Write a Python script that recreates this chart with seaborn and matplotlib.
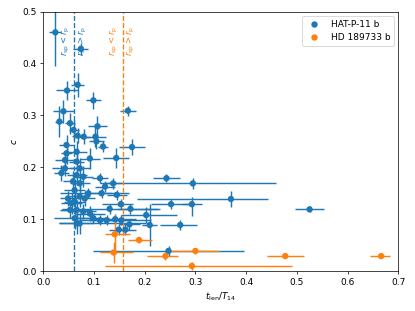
import numpy as np
import pandas as pd
import seaborn as sns
import matplotlib
matplotlib.use("Agg")
import matplotlib.pyplot as plt

# HAT-P-11 b: t_len/T14, c, and errors (lower/upper)
hat_x = [0.024, 0.074, 0.068, 0.047, 0.099, 0.040, 0.167, 0.032, 0.053, 0.107,
         0.060, 0.068, 0.080, 0.103, 0.175, 0.105, 0.046, 0.118, 0.066, 0.046,
         0.092, 0.144, 0.043, 0.066, 0.043, 0.072, 0.036, 0.066, 0.079, 0.112,
         0.059, 0.072, 0.122, 0.138, 0.243, 0.295, 0.062, 0.115, 0.145, 0.089,
         0.049, 0.072, 0.056, 0.062, 0.082, 0.370, 0.252, 0.293, 0.153, 0.066,
         0.053, 0.079, 0.092, 0.131, 0.172, 0.203, 0.062, 0.099, 0.112, 0.125,
         0.142, 0.066, 0.072, 0.210, 0.270, 0.149, 0.162, 0.170, 0.154, 0.247,
         0.525]
hat_y = [0.460, 0.428, 0.359, 0.348, 0.329, 0.308, 0.309, 0.288, 0.285, 0.279,
         0.272, 0.261, 0.259, 0.259, 0.239, 0.250, 0.243, 0.240, 0.230, 0.227,
         0.217, 0.218, 0.214, 0.211, 0.198, 0.198, 0.189, 0.185, 0.182, 0.179,
         0.173, 0.169, 0.163, 0.169, 0.179, 0.169, 0.156, 0.150, 0.147, 0.150,
         0.140, 0.144, 0.131, 0.134, 0.140, 0.139, 0.129, 0.129, 0.129, 0.118,
         0.118, 0.115, 0.111, 0.120, 0.120, 0.108, 0.102, 0.102, 0.098, 0.098,
         0.100, 0.092, 0.092, 0.089, 0.089, 0.080, 0.080, 0.090, 0.098, 0.039,
         0.119]
hat_xlo = [0.012, 0.015, 0.013, 0.021, 0.015, 0.020, 0.015, 0.008, 0.010, 0.018,
           0.010, 0.012, 0.012, 0.020, 0.026, 0.015, 0.015, 0.010, 0.020, 0.010,
           0.020, 0.026, 0.020, 0.015, 0.025, 0.020, 0.015, 0.020, 0.020, 0.015,
           0.020, 0.020, 0.020, 0.015, 0.027, 0.183, 0.020, 0.020, 0.020, 0.055,
           0.015, 0.020, 0.020, 0.020, 0.020, 0.185, 0.040, 0.020, 0.037, 0.030,
           0.020, 0.025, 0.030, 0.094, 0.027, 0.050, 0.040, 0.030, 0.040, 0.030,
           0.040, 0.035, 0.040, 0.015, 0.040, 0.020, 0.020, 0.020, 0.020, 0.148,
           0.028]
hat_xhi = [0.012, 0.015, 0.013, 0.021, 0.015, 0.020, 0.015, 0.008, 0.010, 0.018,
           0.010, 0.012, 0.012, 0.020, 0.026, 0.015, 0.015, 0.010, 0.020, 0.010,
           0.020, 0.026, 0.020, 0.015, 0.025, 0.020, 0.015, 0.020, 0.020, 0.015,
           0.020, 0.020, 0.020, 0.015, 0.027, 0.164, 0.020, 0.020, 0.020, 0.080,
           0.015, 0.020, 0.020, 0.020, 0.020, 0.074, 0.040, 0.020, 0.025, 0.030,
           0.020, 0.025, 0.030, 0.100, 0.055, 0.060, 0.040, 0.030, 0.100, 0.030,
           0.040, 0.035, 0.130, 0.015, 0.033, 0.020, 0.020, 0.020, 0.020, 0.148,
           0.028]
hat_ylo = [0.065, 0.012, 0.023, 0.019, 0.016, 0.022, 0.010, 0.030, 0.020, 0.020,
           0.020, 0.015, 0.015, 0.020, 0.016, 0.015, 0.020, 0.010, 0.020, 0.020,
           0.020, 0.019, 0.015, 0.020, 0.015, 0.020, 0.015, 0.020, 0.020, 0.010,
           0.020, 0.015, 0.010, 0.010, 0.008, 0.010, 0.015, 0.010, 0.010, 0.010,
           0.015, 0.020, 0.020, 0.020, 0.015, 0.015, 0.010, 0.022, 0.010, 0.020,
           0.015, 0.015, 0.015, 0.010, 0.010, 0.015, 0.020, 0.010, 0.010, 0.010,
           0.010, 0.020, 0.020, 0.040, 0.010, 0.010, 0.010, 0.010, 0.010, 0.010,
           0.006]
hat_yhi = [0.065, 0.012, 0.023, 0.019, 0.016, 0.022, 0.010, 0.030, 0.020, 0.020,
           0.020, 0.015, 0.015, 0.020, 0.016, 0.015, 0.020, 0.010, 0.020, 0.020,
           0.020, 0.019, 0.015, 0.020, 0.015, 0.020, 0.015, 0.020, 0.020, 0.010,
           0.020, 0.015, 0.010, 0.010, 0.008, 0.010, 0.015, 0.010, 0.010, 0.010,
           0.015, 0.020, 0.020, 0.020, 0.015, 0.015, 0.010, 0.014, 0.010, 0.020,
           0.015, 0.015, 0.015, 0.010, 0.010, 0.015, 0.020, 0.010, 0.010, 0.010,
           0.010, 0.020, 0.020, 0.040, 0.010, 0.010, 0.010, 0.010, 0.010, 0.010,
           0.006]

# HD 189733 b
hd_x = [0.141, 0.139, 0.189, 0.241, 0.300, 0.293, 0.477, 0.666]
hd_y = [0.071, 0.036, 0.060, 0.029, 0.039, 0.010, 0.029, 0.029]
hd_xlo = [0.020, 0.027, 0.021, 0.037, 0.053, 0.171, 0.036, 0.022]
hd_xhi = [0.030, 0.039, 0.025, 0.024, 0.046, 0.197, 0.036, 0.017]
hd_ylo = [0.037, 0.020, 0.005, 0.008, 0.005, 0.008, 0.004, 0.004]
hd_yhi = [0.037, 0.020, 0.005, 0.008, 0.005, 0.008, 0.004, 0.004]

# spot-size limits
limit_hat = 0.061
limit_hd = 0.157

df = pd.DataFrame({
    "x": hat_x + hd_x,
    "y": hat_y + hd_y,
    "planet": ["HAT-P-11 b"] * len(hat_x) + ["HD 189733 b"] * len(hd_x),
})

fig, ax = plt.subplots(figsize=(6.4, 4.8), dpi=415 / 6.4)
fig.subplots_adjust(left=0.104, right=0.96, bottom=0.128, top=0.962)

ax.errorbar(hat_x, hat_y, xerr=[hat_xlo, hat_xhi], yerr=[hat_ylo, hat_yhi],
            fmt="none", ecolor="C0", elinewidth=1.6, zorder=2)
ax.errorbar(hd_x, hd_y, xerr=[hd_xlo, hd_xhi], yerr=[hd_ylo, hd_yhi],
            fmt="none", ecolor="C1", elinewidth=1.6, zorder=2)
sns.scatterplot(data=df, x="x", y="y", hue="planet", palette=["C0", "C1"],
                s=50, linewidth=0, ax=ax, zorder=3)

for lim, col in [(limit_hat, "C0"), (limit_hd, "C1")]:
    ax.axvline(lim, ls="--", color=col, lw=1.5)
    ax.text(lim - 0.005, 0.473, r"$r_\mathrm{sp} < r_\mathrm{p}$", rotation=90,
            color=col, ha="right", va="top", fontsize=9.5)
    ax.text(lim + 0.005, 0.473, r"$r_\mathrm{sp} > r_\mathrm{p}$", rotation=90,
            color=col, ha="left", va="top", fontsize=9.5)

ax.set_xlim(0, 0.7)
ax.set_ylim(0, 0.5)
ax.set_xlabel(r"$t_\mathrm{len}/T_{14}$")
ax.set_ylabel(r"$c$")
sns.move_legend(ax, "upper right", title=None)

fig.savefig("out.png", dpi=415 / 6.4)
